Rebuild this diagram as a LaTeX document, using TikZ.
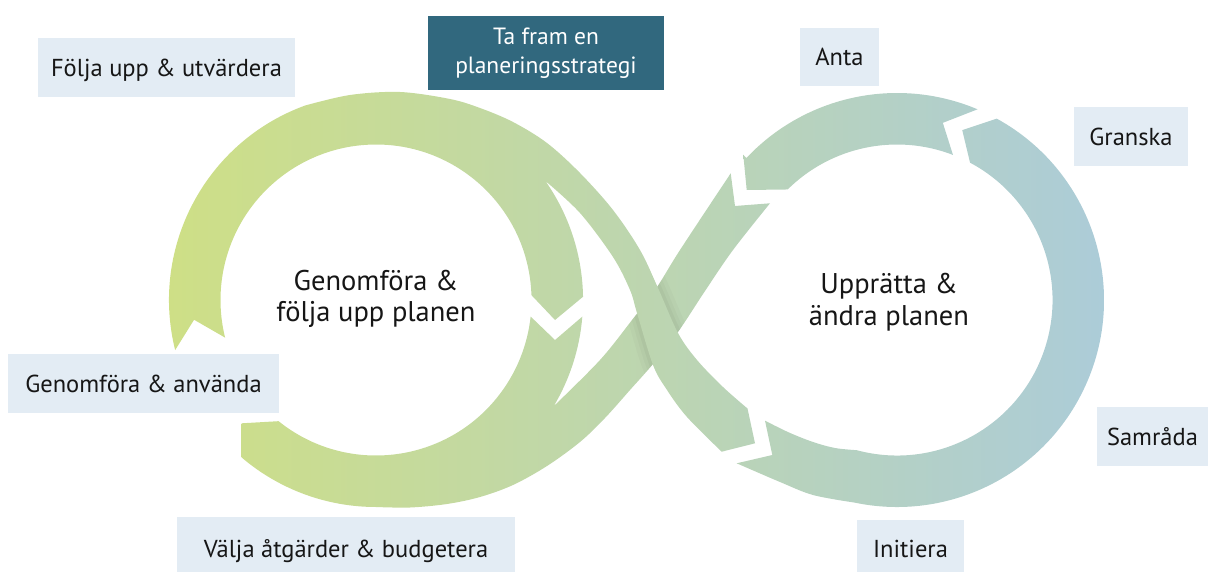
\documentclass[tikz,border=0pt]{standalone}
\usepackage{fontspec}
\setmainfont{PT Sans}
\usetikzlibrary{calc}
\definecolor{gL}{RGB}{206,223,134}
\definecolor{gR}{RGB}{172,204,216}
\definecolor{boxbg}{RGB}{227,236,244}
\definecolor{tealbox}{RGB}{49,104,126}
\definecolor{ink}{RGB}{22,22,22}
\newcommand\myBandFill{\shade[left color=gL, right color=gR] (168,85) rectangle (1104,515);}
\tikzset{
  lbl/.style={fill=boxbg, text=ink, inner sep=0pt, font=\fontsize{24.5}{29}\selectfont, text height=17.2pt, text depth=0pt},
  stratbox/.style={fill=tealbox, text=white, inner sep=0pt, align=center, font=\fontsize{23.5}{29}\selectfont},
  loopname/.style={text=ink, inner sep=0pt, align=center}
}
\begin{document}
\begin{tikzpicture}[x=1pt,y=1pt,yscale=-1]
\useasboundingbox (0,0) rectangle (1209,572);
\coordinate (L) at (376,300);
\coordinate (R) at (897,300);

% C: right loop, big arc (Initiera - Samraada - Granska)
\begin{scope}
\clip (736.7,463.3) -- (772.3,455) -- (765,420.7)
  -- plot[smooth, tension=0.55] coordinates {(765,420.7) (789,432.5) (813,442) (835,448) (856.8,450.2)}
  arc[start angle=105, end angle=-62, radius=155.5]
  -- ($(R)+(-69:182)$) -- ($(R)+(-61.2:207)$)
  arc[start angle=-61.2, end angle=102, radius=207]
  -- plot[smooth, tension=0.55] coordinates {(854,502.5) (813,495) (780,482) (736.7,463.3)} -- cycle;
\myBandFill
\end{scope}

% D: right loop, top arc (Anta)
\begin{scope}
\clip ($(R)+(-67.1:207)$) -- ($(R)+(-75.5:183)$) -- ($(R)+(-68.9:155.5)$)
  arc[start angle=-68.9, end angle=-134.7, radius=155.5]
  -- (746.7,190) -- (743.3,155) -- ($(R)+(-136.7:207)$)
  arc[start angle=-136.7, end angle=-67.1, radius=207] -- cycle;
\myBandFill
\end{scope}

% B + E: diagonal and lower part of the left loop
\begin{scope}
\clip (730.7,173.3) -- (735,206) -- (770,203.3)
  -- plot[smooth, tension=0.55] coordinates {(770,203.3) (733,250) (705,291) (678,332) (653,364) (630,390) (605,418) (580,442) (547,466) (513,485) (480,497) (447,504) (410,507.5) (376,507)}
  arc[start angle=90, end angle=130.5, radius=207]
  -- (241.7,423.3) -- ($(L)+(128.8:155.5)$)
  arc[start angle=128.8, end angle=6.1, radius=155.5]
  -- (555,340) -- ($(L)+(4.6:207)$)
  arc[start angle=4.6, end angle=30.9, radius=207]
  -- plot[smooth, tension=0.55] coordinates {(553.6,406.3) (600,360) (632,320) (657,287) (680,250) (730.7,173.3)} -- cycle;
\myBandFill
\foreach \w/\o in {22/0.02, 14/0.025, 7/0.03}{
  \draw[black, opacity=\o, line width=\w] plot[smooth, tension=0.55] coordinates {(613,210) (640,250) (658,288) (678,333) (697,360) (723,387)};
  \draw[black, opacity=\o, line width=\w] plot[smooth, tension=0.55] coordinates {(687,417) (667,390) (653,365) (637,313) (630,290) (613,257)};
}
\end{scope}

% A: left and top of the left loop, with the crossing branch
\begin{scope}
\clip ($(L)+(166:155.5)$) -- ($(L)+(173.8:183)$) -- ($(L)+(166:207)$)
  arc[start angle=166, end angle=250, radius=207]
  -- plot[smooth, tension=0.55] coordinates {(305.2,105.5) (350,95) (400,92) (450,99) (480,108) (513,122) (547,143) (580,173) (613,210) (640,250) (658,288) (678,333) (697,360) (723,387) (747.5,408.5)}
  -- (755,443.3) -- (721.7,451.7)
  -- plot[smooth, tension=0.55] coordinates {(721.7,451.7) (687,417) (667,390) (653,365) (637,313) (630,290) (613,257) (580,213) (545.4,181)}
  arc[start angle=324.9, end angle=359.1, radius=207]
  -- (555,320) -- ($(L)+(358.2:155.5)$)
  arc[start angle=358.2, end angle=166, radius=155.5] -- cycle;
\myBandFill
\end{scope}

% labels
\node[lbl, minimum width=257pt, minimum height=59pt] (folja) at (166.5,67.5) {Följa upp \& utvärdera};
\node[stratbox, minimum width=236pt, minimum height=74pt] (strategi) at (546,53) {Ta fram en\\planeringsstrategi};
\node[lbl, minimum width=79pt, minimum height=58pt] (anta) at (839.5,57) {Anta};
\node[lbl, minimum width=114pt, minimum height=59pt] (granska) at (1131,136.5) {Granska};
\node[lbl, minimum width=111pt, minimum height=59pt] (samrada) at (1152.5,436.5) {Samråda};
\node[lbl, minimum width=107pt, minimum height=57pt] (initiera) at (910.5,548.7) {Initiera};
\node[lbl, minimum width=338pt, minimum height=63pt] (valja) at (346,548.5) {Välja åtgärder \& budgetera};
\node[lbl, minimum width=271pt, minimum height=59pt] (anvanda) at (143.5,383.5) {Genomföra \& använda};

\node[loopname, font=\fontsize{28.5}{30.6}\selectfont] (genomfora) at (376,299) {Genomföra \&\\följa upp planen};
\node[loopname, font=\fontsize{28.5}{32.5}\selectfont] (uppratta) at (889,302) {Upprätta \&\\ändra planen};
\end{tikzpicture}
\end{document}
